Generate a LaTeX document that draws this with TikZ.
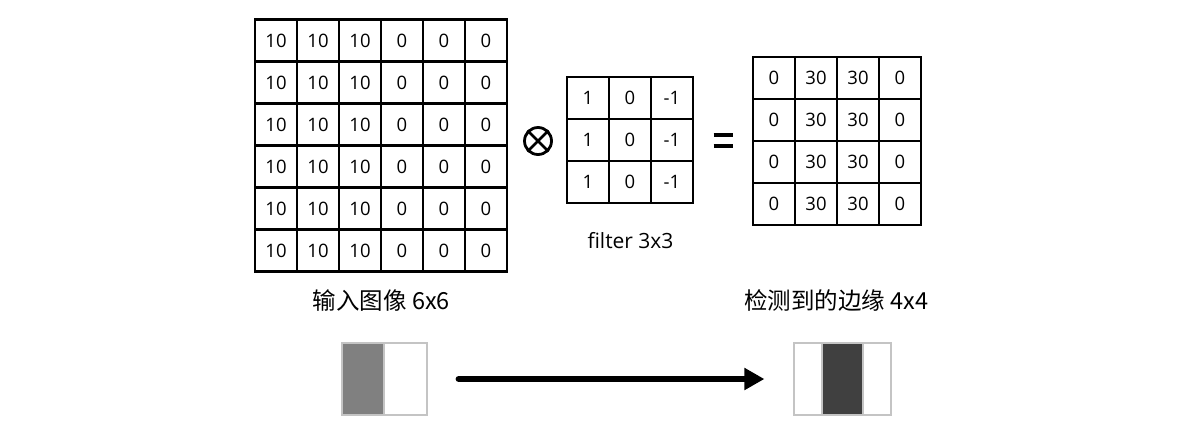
\documentclass[tikz,border=0pt]{standalone}
\usepackage{fontspec}
\setmainfont{Open Sans}
\newfontfamily\cjk{Noto Sans CJK SC}
\usetikzlibrary{arrows.meta}
\definecolor{framegray}{HTML}{C4C4C4}
\definecolor{midgray}{HTML}{808080}
\definecolor{darkgray}{HTML}{404040}
\begin{document}
\begin{tikzpicture}[x=1pt,y=-1pt,
  cell/.style={draw=black,line width=2.6pt,minimum size=42pt,inner sep=0pt,
    font=\fontsize{18.5}{22}\selectfont},
  imgframe/.style={draw=framegray,line width=1.2pt,inner sep=0pt,fill=white},
  shade/.style={draw=framegray,line width=1.2pt},
  caption/.style={font=\cjk\fontsize{23.5}{27}\selectfont},
  bigarrow/.style={line width=6pt,line cap=round,-{Triangle[length=20pt,width=21pt]}}]
\useasboundingbox (0,0) rectangle (1183,432);
% input 6x6
\foreach \i in {0,...,5}{
  \foreach \v [count=\j from 0] in {10,10,10,0,0,0}{
    \node[cell] (big-\i-\j) at (276+42*\j,40.5+42*\i) {\v};
  }
}
% filter 3x3
\foreach \i in {0,1,2}{
  \foreach \v [count=\j from 0] in {1,0,-1}{
    \node[cell] (flt-\i-\j) at (588+42*\j,98+42*\i) {\v};
  }
}
% output 4x4
\foreach \i in {0,...,3}{
  \foreach \v [count=\j from 0] in {0,30,30,0}{
    \node[cell] (out-\i-\j) at (774+42*\j,78+42*\i) {\v};
  }
}
% convolution symbol
\node[circle,draw=black,line width=2.8pt,minimum size=27pt,inner sep=0pt] (conv) at (538,141) {};
\draw[line width=2.5pt] (conv.north west) -- (conv.south east);
\draw[line width=2.5pt] (conv.north east) -- (conv.south west);
% equals sign
\coordinate (eq) at (723,140.5);
\draw[line width=4pt] (eq) ++(-9.5,-5.5) -- ++(19,0);
\draw[line width=4pt] (eq) ++(-9.5,5.5) -- ++(19,0);
% captions
\node[caption] (inlabel) at (381.5,301) {输入图像 6x6};
\node[font=\fontsize{21}{24}\selectfont] (fltlabel) at (630.5,241) {filter 3x3};
\node[caption] (outlabel) at (836.5,301) {检测到的边缘 4x4};
% bottom images
\node[imgframe,minimum width=85pt,minimum height=72pt] (inimg) at (384.5,379) {};
\filldraw[shade,fill=midgray] (342,343) rectangle (384,415);
\node[imgframe,minimum width=97pt,minimum height=72pt] (outimg) at (842.5,379) {};
\filldraw[shade,fill=darkgray] (822,343) rectangle (863,415);
% arrow
\draw[bigarrow] ([xshift=31pt]inimg.east) -- ([xshift=-29pt]outimg.west);
\end{tikzpicture}
\end{document}
